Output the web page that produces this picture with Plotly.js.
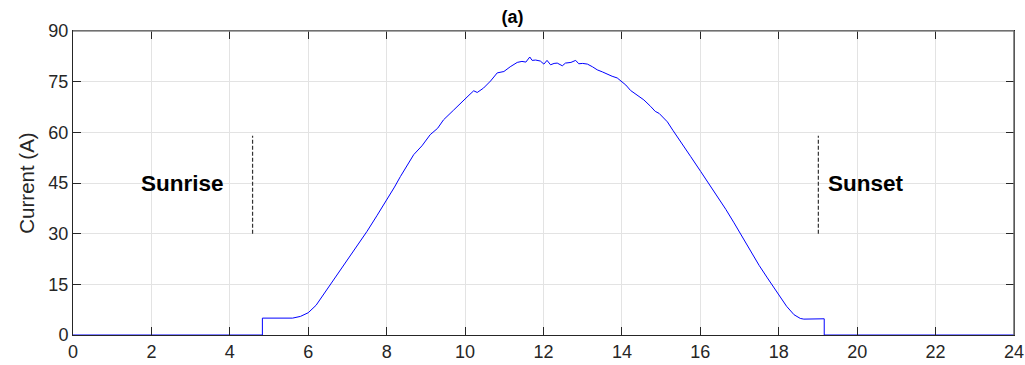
<!DOCTYPE html>
<html>
<head>
<meta charset="utf-8">
<script src="https://cdn.plot.ly/plotly-3.0.1.min.js"></script>
<style>html,body{margin:0;padding:0;background:#fff;}#chart{width:1025px;height:365px;}</style>
</head>
<body>
<div id="chart"></div>
<script>
// Time of day (h) and measured current (A)
const hours = [0, 4.83, 4.83, 5.0, 5.2, 5.4, 5.6, 5.8, 6.0, 6.2, 6.4, 6.65, 6.85, 7.07, 7.3, 7.5, 7.75, 8.01, 8.2, 8.35, 8.5, 8.69, 8.9, 9.11, 9.3, 9.45, 9.7, 9.96, 10.1, 10.22, 10.31, 10.47, 10.65, 10.82, 10.99, 11.15, 11.33, 11.45, 11.55, 11.65, 11.71, 11.8, 11.92, 12.01, 12.09, 12.18, 12.27, 12.35, 12.48, 12.56, 12.7, 12.82, 12.9, 13.0, 13.12, 13.25, 13.37, 13.5, 13.63, 13.75, 13.88, 14.01, 14.1, 14.22, 14.4, 14.56, 14.73, 14.85, 14.95, 15.16, 15.3, 15.5, 15.75, 16.01, 16.2, 16.43, 16.65, 16.86, 17.05, 17.28, 17.5, 17.71, 17.9, 18.05, 18.2, 18.39, 18.55, 18.64, 18.9, 19.16, 19.16, 24];
const current = [0, 0, 5.0, 5.0, 4.8, 5.0, 5.0, 5.5, 6.6, 8.8, 12.2, 16.4, 19.7, 23.3, 27.3, 30.7, 35.3, 40.0, 43.8, 46.9, 49.6, 53.4, 56.0, 59.3, 61.2, 63.7, 66.5, 69.6, 71.0, 72.3, 71.8, 73.1, 75.2, 77.6, 78.0, 79.4, 80.7, 81.0, 80.8, 82.3, 81.3, 81.4, 81.1, 80.2, 81.3, 80.0, 80.4, 80.5, 79.7, 80.5, 80.7, 81.3, 80.3, 80.4, 80.2, 79.4, 78.5, 77.9, 77.1, 76.6, 76.1, 74.8, 74.0, 72.4, 70.9, 69.6, 67.7, 66.2, 65.6, 63.1, 60.6, 57.3, 52.9, 48.4, 45.1, 41.0, 37.2, 33.2, 29.4, 24.7, 20.6, 16.9, 13.6, 11.0, 8.5, 6.0, 4.9, 4.7, 4.8, 4.8, 0, 0];

const sunriseX = [4.58, 4.58];
const sunsetX = [19.01, 19.01];
const markerY = [30, 59];
const labels = ["Sunrise", "Sunset"];
const labelX = [2.8, 20.23];
const labelY = [45, 45];

const xTicks = [0,2,4,6,8,10,12,14,16,18,20,22,24];
const yTicks = [0,15,30,45,60,75,90];

const FONT = "Liberation Sans, Arial, Helvetica, sans-serif";
const axisCol = "#262626";

const traces = [
  {x: hours, y: current, type: "scatter", mode: "lines", line: {color: "#0000ff", width: 1}, hoverinfo: "skip"},
  {x: sunriseX, y: markerY, type: "scatter", mode: "lines", line: {color: "#333", width: 1.2, dash: "4px,2px"}, hoverinfo: "skip"},
  {x: sunsetX, y: markerY, type: "scatter", mode: "lines", line: {color: "#333", width: 1.2, dash: "4px,2px"}, hoverinfo: "skip"}
];

const annotations = labels.map((t, i) => ({
  x: labelX[i], y: labelY[i], xref: "x", yref: "y", text: "<b>" + t + "</b>",
  showarrow: false, font: {family: FONT, size: 22.5, color: "#000"}, xanchor: "center", yanchor: "middle"
}));

const layout = {
  width: 1025, height: 365,
  margin: {l: 73, r: 11, t: 31, b: 30},
  paper_bgcolor: "#fff", plot_bgcolor: "#fff",
  showlegend: false,
  title: {text: "<b>(a)</b>", font: {family: FONT, size: 18, color: "#000"}, x: 0.5, xanchor: "center", y: 0.955, yanchor: "middle"},
  xaxis: {
    range: [0, 24], tickvals: xTicks, ticktext: xTicks.map(String),
    ticks: "inside", ticklen: 8, tickwidth: 1, tickcolor: axisCol,
    showline: true, linecolor: axisCol, linewidth: 1, mirror: "ticks",
    showgrid: true, gridcolor: "#e3e3e3", gridwidth: 1, zeroline: false,
    tickfont: {family: FONT, size: 18, color: axisCol}
  },
  yaxis: {
    range: [0, 90], tickvals: yTicks, ticktext: yTicks.map(String),
    ticks: "inside", ticklen: 8, tickwidth: 1, tickcolor: axisCol,
    showline: true, linecolor: axisCol, linewidth: 1, mirror: "ticks",
    showgrid: true, gridcolor: "#e3e3e3", gridwidth: 1, zeroline: false,
    tickfont: {family: FONT, size: 18, color: axisCol},
    title: {text: "Current (A)", font: {family: FONT, size: 20.5, color: axisCol}, standoff: 8}
  },
  annotations: annotations,
  shapes: [
    {type: "line", xref: "paper", yref: "paper", x0: 0, x1: 1, y0: 1, y1: 1, line: {color: "#8a8a8a", width: 1.5}, layer: "above"},
    {type: "line", xref: "paper", yref: "paper", x0: 1, x1: 1, y0: 0, y1: 1, line: {color: "#6a6a6a", width: 1.5}, layer: "above"}
  ]
};

Plotly.newPlot("chart", traces, layout, {displayModeBar: false, staticPlot: true});
</script>
</body>
</html>
